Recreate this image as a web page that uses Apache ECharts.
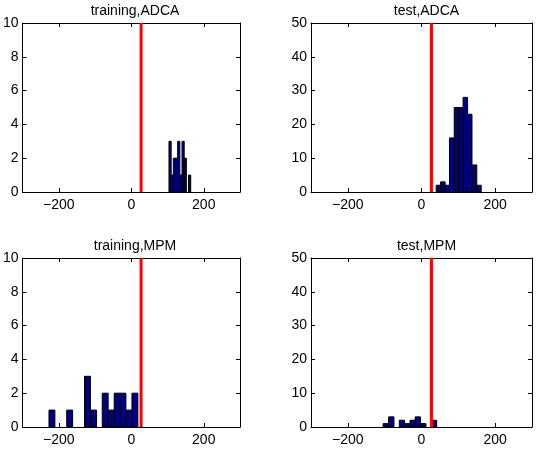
<!DOCTYPE html>
<html>
<head>
<meta charset="utf-8">
<script src="https://cdn.jsdelivr.net/npm/echarts@6/dist/echarts.min.js"></script>
<style>
  html, body { margin: 0; padding: 0; background: #fff; }
  #main { width: 540px; height: 452px; }
</style>
</head>
<body>
<div id="main"></div>
<script>
// 直方图数据 (bin centers / counts)
const titles = ['training,ADCA', 'test,ADCA', 'training,MPM', 'test,MPM'];
const xTicks = [-200, 0, 200];
const threshold = 27;

const trainAdcaCenters = [107, 113, 119, 125, 131, 137, 143, 149, 155, 161];
const trainAdcaCounts  = [3, 1, 2, 2, 3, 1, 3, 2, 0, 1];
const trainAdcaWidth = 6;

const testAdcaCenters = [46, 58, 70, 82, 95, 107, 119, 131, 144, 156];
const testAdcaCounts  = [2, 3, 2, 16, 25, 25, 28, 23, 8, 2];
const testAdcaWidth = 12.2;

const trainMpmCenters = [-219, -202, -186, -170, -153, -137, -121, -104, -88, -72, -55, -39, -23, -6, 10];
const trainMpmCounts  = [1, 0, 0, 1, 0, 0, 3, 1, 0, 2, 1, 2, 2, 1, 2];
const trainMpmWidth = 16.3;

const testMpmCenters = [-97, -82, -68, -53, -39, -24, -10, 5, 19, 34];
const testMpmCounts  = [1, 3, 0, 2, 1, 2, 3, 1, 0, 2];
const testMpmWidth = 14.45;

const yMaxTrain = 10, yStepTrain = 2;
const yMaxTest = 50, yStepTest = 10;

const panels = [
  { centers: trainAdcaCenters, counts: trainAdcaCounts, width: trainAdcaWidth, ymax: yMaxTrain, step: yStepTrain, left: 20, top: 23, w: 220 },
  { centers: testAdcaCenters, counts: testAdcaCounts, width: testAdcaWidth, ymax: yMaxTest, step: yStepTest, left: 311, top: 23, w: 221 },
  { centers: trainMpmCenters, counts: trainMpmCounts, width: trainMpmWidth, ymax: yMaxTrain, step: yStepTrain, left: 20, top: 258, w: 220 },
  { centers: testMpmCenters, counts: testMpmCounts, width: testMpmWidth, ymax: yMaxTest, step: yStepTest, left: 311, top: 258, w: 221 }
];

const font = 'Liberation Sans, Arial, sans-serif';
const chart = echarts.init(document.getElementById('main'), null, { renderer: 'canvas' });

const grid = [], xAxis = [], yAxis = [], series = [], title = [];
const lineStyle = { color: '#000', width: 1 };

panels.forEach(function (p, i) {
  grid.push({ left: p.left, top: p.top, width: p.w, height: 169 });
  title.push({
    text: titles[i], left: p.left + p.w / 2, top: p.top - 24, textAlign: 'center',
    textStyle: { fontFamily: font, fontSize: 14, fontWeight: 'normal', color: '#000' }
  });
  // bottom / top x axes
  xAxis.push({
    type: 'value', gridIndex: i, min: -300, max: 300, position: 'bottom',
    axisLine: { show: true, onZero: false, lineStyle: lineStyle },
    axisTick: { show: true, inside: true, length: 4, lineStyle: lineStyle, customValues: xTicks },
    axisLabel: { customValues: xTicks, margin: 6, fontFamily: font, fontSize: 14, color: '#000',
      formatter: function (v) { return String(v).replace('-', '\u2212'); } },
    splitLine: { show: false }
  });
  xAxis.push({
    type: 'value', gridIndex: i, min: -300, max: 300, position: 'top',
    axisLine: { show: true, onZero: false, lineStyle: lineStyle },
    axisTick: { show: true, inside: true, length: 4, lineStyle: lineStyle, customValues: xTicks },
    axisLabel: { show: false },
    splitLine: { show: false }
  });
  yAxis.push({
    type: 'value', gridIndex: i, min: 0, max: p.ymax, interval: p.step, position: 'left',
    axisLine: { show: true, onZero: false, lineStyle: lineStyle },
    axisTick: { show: true, inside: true, length: 4, lineStyle: lineStyle },
    axisLabel: { margin: 4, fontFamily: font, fontSize: 14, color: '#000' },
    splitLine: { show: false }
  });
  yAxis.push({
    type: 'value', gridIndex: i, min: 0, max: p.ymax, interval: p.step, position: 'right',
    axisLine: { show: true, onZero: false, lineStyle: lineStyle },
    axisTick: { show: true, inside: true, length: 4, lineStyle: lineStyle },
    axisLabel: { show: false },
    splitLine: { show: false }
  });

  series.push({
    type: 'custom',
    xAxisIndex: i * 2, yAxisIndex: i * 2,
    clip: true,
    data: p.centers.map(function (c, k) { return [c, p.counts[k], p.width]; }),
    renderItem: function (params, api) {
      const c = api.value(0), n = api.value(1), bw = api.value(2);
      if (!n) return null;
      const a = api.coord([c - bw / 2, n]);
      const b = api.coord([c + bw / 2, 0]);
      return {
        type: 'rect',
        shape: { x: a[0], y: a[1], width: b[0] - a[0], height: b[1] - a[1] },
        style: { fill: '#000080', stroke: '#000', lineWidth: 1 }
      };
    }
  });
  // 阈值红线
  series.push({
    type: 'line',
    xAxisIndex: i * 2, yAxisIndex: i * 2,
    data: [[threshold, 0], [threshold, p.ymax]],
    symbol: 'none',
    lineStyle: { color: '#ff0000', width: 3 },
    z: 5
  });
});

chart.setOption({
  animation: false,
  backgroundColor: '#fff',
  title: title,
  grid: grid,
  xAxis: xAxis,
  yAxis: yAxis,
  series: series
});
</script>
</body>
</html>
